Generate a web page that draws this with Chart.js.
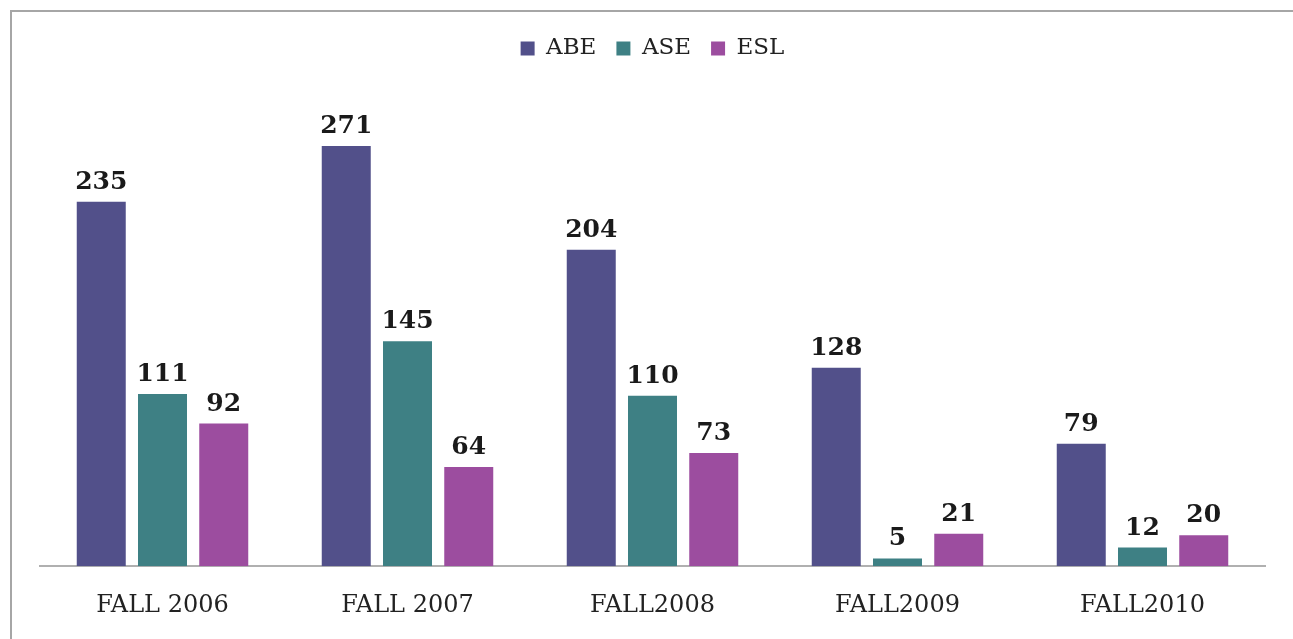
<!DOCTYPE html>
<html>
<head>
<meta charset="utf-8">
<script src="https://cdn.jsdelivr.net/npm/chart.js@4/dist/chart.umd.min.js"></script>
<style>
  html, body { margin: 0; padding: 0; background: #fff; overflow: hidden; }
  #frame {
    position: absolute; left: 10px; top: 10px;
    width: 1283px; height: 629px;
    border-left: 2px solid #a6a6a6; border-top: 2px solid #a6a6a6;
  }
  #wrap { position: absolute; left: 0; top: 0; width: 1281px; height: 633px; }
</style>
</head>
<body>
<div id="frame"><div id="wrap"><canvas id="grafico"></canvas></div></div>
<script>
// dados
const categorias = ['FALL 2006', 'FALL 2007', 'FALL2008', 'FALL2009', 'FALL2010']
const abe = [235, 271, 204, 128, 79]
const ase = [111, 145, 110, 5, 12]
const esl = [92, 64, 73, 21, 20]

const fonte = '"DejaVu Serif", Georgia, serif'

// escreve o valor em cima de cada barra
const rotulos = {
    id: 'rotulos',
    afterDatasetsDraw(chart) {
        const ctx = chart.ctx
        ctx.save()
        ctx.font = 'bold 25px ' + fonte
        ctx.fillStyle = '#1a1a1a'
        ctx.textAlign = 'center'
        ctx.textBaseline = 'alphabetic'
        chart.data.datasets.forEach((ds, i) => {
            chart.getDatasetMeta(i).data.forEach((bar, j) => {
                ctx.fillText(ds.data[j], bar.x, bar.y - 13)
            })
        })
        ctx.restore()
    }
}

new Chart(document.getElementById('grafico').getContext('2d'), {
    type: 'bar',
    data: {
        labels: categorias,
        datasets: [
            { label: 'ABE', data: abe, backgroundColor: '#52508a' },
            { label: 'ASE', data: ase, backgroundColor: '#3e8084' },
            { label: 'ESL', data: esl, backgroundColor: '#9c4d9f' }
        ]
    },
    options: {
        responsive: true,
        maintainAspectRatio: false,
        animation: false,
        categoryPercentage: 0.75,
        barPercentage: 0.8,
        layout: { padding: { left: 28, right: 28, top: 5, bottom: 0 } },
        plugins: {
            legend: {
                position: 'top',
                labels: {
                    boxWidth: 14, boxHeight: 14, padding: 20,
                    color: '#222', font: { family: fonte, size: 23 }
                }
            },
            tooltip: { enabled: false }
        },
        scales: {
            x: {
                grid: { display: false, drawTicks: false },
                border: { display: true, color: '#b0b0b0', width: 2 },
                ticks: { padding: 25, color: '#222', font: { family: fonte, size: 24 } }
            },
            y: { display: false, min: 0, max: 320 }
        }
    },
    plugins: [rotulos]
})
</script>
</body>
</html>
